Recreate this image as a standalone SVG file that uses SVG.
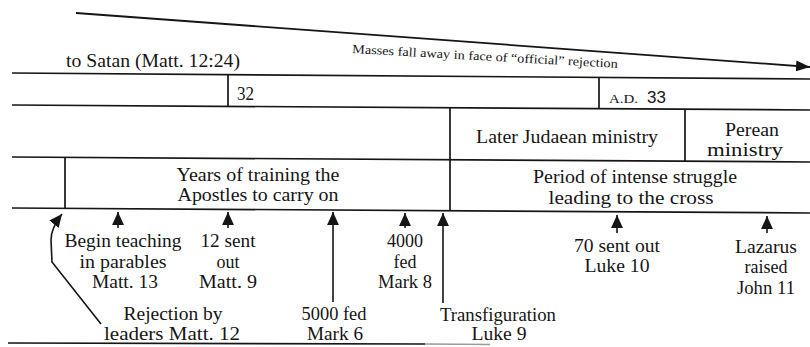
<svg xmlns="http://www.w3.org/2000/svg" width="810" height="347" viewBox="0 0 810 347">
<style>
.ln{stroke:#151515;stroke-width:1.7;fill:none}
.ar{stroke:#151515;stroke-width:1.6;fill:none;marker-end:url(#ah)}
.t{font-family:"Liberation Serif","Times New Roman",serif;font-size:18px;fill:#151515}
.m{text-anchor:middle}
.s{font-family:"Liberation Serif","Times New Roman",serif;font-size:12.5px;fill:#151515}
</style>
<defs>
<marker id="ah" markerUnits="userSpaceOnUse" markerWidth="13" markerHeight="12" refX="12" refY="5.5" orient="auto" viewBox="0 0 12 11">
<path d="M0,0 L12,5.5 L0,11 z" fill="#151515"/>
</marker>
<marker id="ah2" markerUnits="userSpaceOnUse" markerWidth="14" markerHeight="12" refX="13" refY="5" orient="auto" viewBox="0 0 13 10">
<path d="M0,0 L13,5 L0,10 z" fill="#151515"/>
</marker>
</defs>
<g id="frame">
<line class="ln" x1="12" y1="73" x2="810" y2="79"/>
<line class="ln" x1="12" y1="105" x2="810" y2="110"/>
<line class="ln" x1="12" y1="157" x2="810" y2="162"/>
<line class="ln" x1="12" y1="208" x2="810" y2="213"/>
<line class="ln" x1="8" y1="343" x2="425" y2="344"/>
<line x1="425" y1="344" x2="490" y2="344.5" stroke="#9a9a9a" stroke-width="1.5"/>
<line class="ln" x1="228" y1="74.7" x2="228" y2="106.4"/>
<line class="ln" x1="599" y1="77.4" x2="599" y2="108.7"/>
<line class="ln" x1="450" y1="107.8" x2="450" y2="210.8"/>
<line class="ln" x1="685" y1="109.2" x2="685" y2="161.2"/>
<line class="ln" x1="65" y1="157.4" x2="65" y2="208.4"/>
</g>
<g id="trend">
<line x1="76" y1="13" x2="810" y2="67" stroke="#151515" stroke-width="1.8" marker-end="url(#ah2)"/>
<text class="s" x="352" y="53" transform="rotate(3.2 352 53)" textLength="266" lengthAdjust="spacingAndGlyphs">Masses fall away in face of “official” rejection</text>
</g>
<g id="labels">
<text class="t" x="66" y="67" textLength="174" lengthAdjust="spacingAndGlyphs">to Satan (Matt. 12:24)</text>
<text class="t" x="237" y="100" textLength="17" lengthAdjust="spacingAndGlyphs">32</text>
<text x="609" y="103" font-family="Liberation Serif,serif" font-size="12.5" fill="#151515" textLength="29" lengthAdjust="spacingAndGlyphs">A.D.</text>
<text x="647" y="103" font-family="Liberation Sans,Arial,sans-serif" font-size="17" fill="#151515">33</text>
</g>
<g id="later-judaean"><text class="t m" x="567" y="143" textLength="182" lengthAdjust="spacingAndGlyphs">Later Judaean ministry</text></g>
<g id="perean"><text class="t m" x="752" y="136" textLength="54" lengthAdjust="spacingAndGlyphs">Perean</text><text class="t m" x="745" y="156" textLength="76" lengthAdjust="spacingAndGlyphs">ministry</text></g>
<g id="training"><text class="t m" x="258" y="181" textLength="163" lengthAdjust="spacingAndGlyphs">Years of training the</text><text class="t m" x="258" y="201" textLength="161" lengthAdjust="spacingAndGlyphs">Apostles to carry on</text></g>
<g id="struggle"><text class="t m" x="635" y="183" textLength="204" lengthAdjust="spacingAndGlyphs">Period of intense struggle</text><text class="t m" x="631" y="204" textLength="165" lengthAdjust="spacingAndGlyphs">leading to the cross</text></g>
<g id="connectors">
<path class="ar" d="M101,324 L52,262 L51,240 Q51,228 62,214"/>
<line class="ar" x1="118" y1="228" x2="118" y2="212"/>
<line class="ar" x1="228" y1="228" x2="228" y2="212"/>
<line class="ar" x1="333" y1="302" x2="333" y2="212"/>
<line class="ar" x1="405" y1="228" x2="405" y2="213"/>
<line class="ar" x1="443" y1="303" x2="443" y2="213"/>
<line class="ar" x1="617" y1="233" x2="617" y2="215"/>
<line class="ar" x1="767" y1="233" x2="767" y2="216"/>
</g>
<g id="parables"><text class="t m" x="123" y="247" textLength="117" lengthAdjust="spacingAndGlyphs">Begin teaching</text><text class="t m" x="123" y="268" textLength="87" lengthAdjust="spacingAndGlyphs">in parables</text><text class="t m" x="125" y="288" textLength="66" lengthAdjust="spacingAndGlyphs">Matt. 13</text></g>
<g id="twelve"><text class="t m" x="228" y="247" textLength="55" lengthAdjust="spacingAndGlyphs">12 sent</text><text class="t m" x="228" y="268">out</text><text class="t m" x="228" y="288" textLength="58" lengthAdjust="spacingAndGlyphs">Matt. 9</text></g>
<g id="fed4000"><text class="t m" x="405" y="247" textLength="36" lengthAdjust="spacingAndGlyphs">4000</text><text class="t m" x="405" y="268">fed</text><text class="t m" x="405" y="288" textLength="54" lengthAdjust="spacingAndGlyphs">Mark 8</text></g>
<g id="rejection"><text class="t m" x="173" y="320" textLength="99" lengthAdjust="spacingAndGlyphs">Rejection by</text><text class="t m" x="172" y="340" textLength="136" lengthAdjust="spacingAndGlyphs">leaders Matt. 12</text></g>
<g id="fed5000"><text class="t m" x="334" y="320" textLength="65" lengthAdjust="spacingAndGlyphs">5000 fed</text><text class="t m" x="335" y="340" textLength="56" lengthAdjust="spacingAndGlyphs">Mark 6</text></g>
<g id="transfiguration"><text class="t m" x="498" y="321" textLength="116" lengthAdjust="spacingAndGlyphs">Transfiguration</text><text class="t m" x="499" y="340" textLength="55" lengthAdjust="spacingAndGlyphs">Luke 9</text></g>
<g id="seventy"><text class="t m" x="617" y="252" textLength="86" lengthAdjust="spacingAndGlyphs">70 sent out</text><text class="t m" x="617" y="272" textLength="65" lengthAdjust="spacingAndGlyphs">Luke 10</text></g>
<g id="lazarus"><text class="t m" x="766" y="253" textLength="62" lengthAdjust="spacingAndGlyphs">Lazarus</text><text class="t m" x="766" y="273" textLength="43" lengthAdjust="spacingAndGlyphs">raised</text><text class="t m" x="766" y="294" textLength="58" lengthAdjust="spacingAndGlyphs">John 11</text></g>
</svg>
